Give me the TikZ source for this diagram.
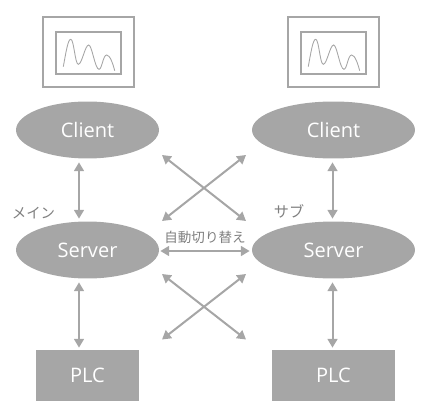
\documentclass[tikz,border=0pt]{standalone}
\usepackage{xcolor}
\usepackage{fontspec}
\setmainfont{Open Sans}
\newfontfamily\jpfont{Noto Sans CJK JP}
\usetikzlibrary{arrows.meta,positioning,shapes.geometric}
\definecolor{boxgray}{HTML}{A6A6A6}
\definecolor{labelgray}{HTML}{7F7F7F}

\begin{document}
\begin{tikzpicture}[
  x=0.02cm, y=-0.02cm,
  hostnode/.style={ellipse, fill=boxgray, inner sep=0pt, text=white, font=\fontsize{11.4}{13}\selectfont},
  clientnode/.style={hostnode, minimum width=2.86cm, minimum height=1.14cm},
  plcnode/.style={rectangle, fill=boxgray, minimum height=1.02cm, inner sep=0pt, text=white, font=\fontsize{11.4}{13}\selectfont},
  screen/.style={rectangle, draw=boxgray, line width=0.85pt, inner sep=0pt},
  trend/.style={draw=boxgray, line width=0.5pt},
  arr/.style={{Triangle[length=5pt,width=5.6pt]}-{Triangle[length=5pt,width=5.6pt]}, draw=boxgray, line width=1.15pt},
  jplabel/.style={text=labelgray, inner sep=0pt, font=\jpfont\fontsize{7.7}{9}\selectfont}
]
  \useasboundingbox (0,0) rectangle (431,418);

  % left side
  \node[screen, minimum width=1.82cm, minimum height=1.4cm] (monL) at (88.5,52) {};
  \node[screen, minimum width=1.3cm, minimum height=0.84cm] (panelL) at (88.5,53) {};
  \node[clientnode] (clientL) at (87.5,130) {Client};
  \node[clientnode] (serverL) at (87.5,250) {\raisebox{-0.04cm}{Server}};
  \node[plcnode, minimum width=2.06cm] (plcL) at (87.5,375.5) {PLC};

  % right side
  \node[screen, minimum width=1.82cm, minimum height=1.4cm] (monR) at (333.5,52) {};
  \node[screen, minimum width=1.3cm, minimum height=0.84cm] (panelR) at (333.5,53) {};
  \node[hostnode, minimum width=3.26cm, minimum height=1.14cm] (clientR) at (333.5,130) {Client};
  \node[hostnode, minimum width=3.26cm, minimum height=1.14cm] (serverR) at (333.5,250) {\raisebox{-0.04cm}{Server}};
  \node[plcnode, minimum width=2.46cm] (plcR) at (333.5,375.5) {PLC};

  % waves
  \draw[trend] (63.3,66.7) .. controls (66,52) and (68,39.3) .. (70.7,39.3)
    .. controls (74,39.3) and (75,64.3) .. (78.3,64.3)
    .. controls (82,64.3) and (85,45) .. (88.7,45)
    .. controls (92,45) and (95,69.3) .. (99,69.3)
    .. controls (102,69.3) and (103,55) .. (106.7,55)
    .. controls (110,55) and (113,64) .. (114.7,70.7);
  \draw[trend, xshift=4.9cm] (63.3,66.7) .. controls (66,52) and (68,39.3) .. (70.7,39.3)
    .. controls (74,39.3) and (75,64.3) .. (78.3,64.3)
    .. controls (82,64.3) and (85,45) .. (88.7,45)
    .. controls (92,45) and (95,69.3) .. (99,69.3)
    .. controls (102,69.3) and (103,55) .. (106.7,55)
    .. controls (110,55) and (113,64) .. (114.7,70.7);

  % cross ends
  \coordinate (upNW) at (162,155);
  \coordinate (upNE) at (246,155);
  \coordinate (upSW) at (162,221);
  \coordinate (upSE) at (246,221);
  \coordinate (lowNW) at (162,274);
  \coordinate (lowNE) at (246,274);
  \coordinate (lowSW) at (162,339.5);
  \coordinate (lowSE) at (246,339.5);

  \draw[arr] ([xshift=-0.17cm,yshift=-0.07cm]clientL.south) -- ([xshift=-0.17cm,yshift=0.05cm]serverL.north);
  \draw[arr] ([xshift=-0.17cm,yshift=-0.07cm]serverL.south) -- ([xshift=-0.17cm,yshift=0.04cm]plcL.north);
  \draw[arr] ([xshift=-0.02cm,yshift=-0.07cm]clientR.south) -- ([xshift=-0.02cm,yshift=0.05cm]serverR.north);
  \draw[arr] ([xshift=-0.02cm,yshift=-0.07cm]serverR.south) -- ([xshift=-0.02cm,yshift=0.04cm]plcR.north);
  \draw[arr] ([xshift=0.02cm,yshift=-0.02cm]serverL.east) -- ([xshift=-0.04cm,yshift=-0.02cm]serverR.west);
  \draw[arr] (upNW) -- (upSE);
  \draw[arr] (upNE) -- (upSW);
  \draw[arr] (lowNW) -- (lowSE);
  \draw[arr] (lowNE) -- (lowSW);

  \node[jplabel] (switchLbl) at (205,237) {自動切り替え};
  \node[jplabel, font=\jpfont\fontsize{8.2}{9}\selectfont] (mainLbl) at (33.5,213.5) {メイン};
  \node[jplabel, font=\jpfont\fontsize{8.6}{9}\selectfont] (subLbl) at (289,211.5) {サブ};
\end{tikzpicture}
\end{document}
